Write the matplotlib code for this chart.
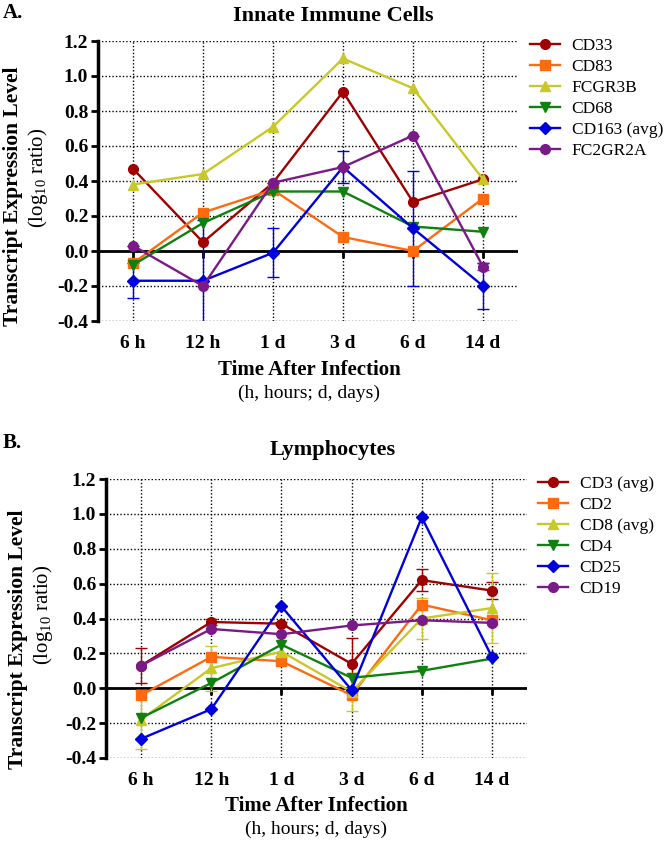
import numpy as np
import matplotlib
matplotlib.use("Agg")
import matplotlib.pyplot as plt

plt.rcParams['font.family'] = ['Liberation Serif', 'DejaVu Serif']
plt.rcParams['mathtext.fontset'] = 'custom'
plt.rcParams['mathtext.rm'] = 'Liberation Serif'
plt.rcParams['mathtext.it'] = 'Liberation Serif:italic'
plt.rcParams['mathtext.bf'] = 'Liberation Serif:bold'

# time points (categories)
times = ['6 h', '12 h', '1 d', '3 d', '6 d', '14 d']

# Panel A - innate immune cells
cd33 = [0.47, 0.05, 0.39, 0.91, 0.28, 0.41]
cd83 = [-0.07, 0.22, 0.35, 0.08, 0.00, 0.30]
fcgr3b = [0.38, 0.44, 0.71, 1.10, 0.93, 0.41]
cd68 = [-0.08, 0.16, 0.34, 0.34, 0.14, 0.11]
cd163 = [-0.17, -0.17, -0.01, 0.48, 0.13, -0.20]
cd163_err = [0.10, 0.35, 0.14, 0.09, 0.33, 0.13]
fc2gr2a = [0.03, -0.20, 0.39, 0.48, 0.66, -0.09]
fc2gr2a_err = [0, 0, 0, 0, 0, 0.02]

# Panel B - lymphocytes
cd3 = [0.13, 0.38, 0.37, 0.14, 0.62, 0.56]
cd3_err = [0.10, 0.02, 0.01, 0.15, 0.065, 0.05]
cd2 = [-0.04, 0.18, 0.155, -0.04, 0.48, 0.39]
cd8 = [-0.18, 0.115, 0.21, -0.02, 0.40, 0.46]
cd8_err = [0.17, 0.13, 0.03, 0.11, 0.12, 0.20]
cd4 = [-0.17, 0.03, 0.25, 0.06, 0.10, 0.17]
cd25 = [-0.29, -0.12, 0.47, -0.01, 0.98, 0.18]
cd19 = [0.13, 0.34, 0.31, 0.36, 0.39, 0.375]

red = '#A00000'
orange = '#FF6A10'
yellow = '#C8C828'
green = '#108010'
blue = '#0000DD'
purple = '#7A1A88'

series_a = [
    ('CD33', cd33, None, red, 'o'),
    ('CD83', cd83, None, orange, 's'),
    ('FCGR3B', fcgr3b, None, yellow, '^'),
    ('CD68', cd68, None, green, 'v'),
    ('CD163 (avg)', cd163, cd163_err, blue, 'D'),
    ('FC2GR2A', fc2gr2a, fc2gr2a_err, purple, 'o'),
]
series_b = [
    ('CD3 (avg)', cd3, cd3_err, red, 'o'),
    ('CD2', cd2, None, orange, 's'),
    ('CD8 (avg)', cd8, cd8_err, yellow, '^'),
    ('CD4', cd4, None, green, 'v'),
    ('CD25', cd25, None, blue, 'D'),
    ('CD19', cd19, None, purple, 'o'),
]

W, H = 666, 843


def px(x, y):
    # figure fraction from pixel position (top-left origin)
    return x / W, 1 - y / H


def draw_panel(ax, series, title, letter, pos):
    x = np.arange(len(times))
    for i in x:
        ax.axvline(i, color='black', ls=(0, (1, 1.5)), lw=1, zorder=0)
    for yv in np.arange(-0.4, 1.21, 0.2):
        ax.axhline(yv, color='black', ls=(0, (1, 1.5)), lw=1, zorder=0)
    ax.axhline(0, color='black', lw=2, zorder=1)
    ax.plot(x, np.zeros(len(x)), ls='none', marker=3, ms=5, mew=2,
            color='black', zorder=1)

    for name, vals, err, col, mk in series:
        ms = 6.5 if mk == 'D' else 7
        if err is not None:
            ax.errorbar(x, vals, yerr=err, color=col, lw=1, capsize=4,
                        capthick=1, ls='none', zorder=2)
        ax.plot(x, vals, color=col, marker=mk, ms=ms, lw=1.7, label=name,
                zorder=3)

    ax.set_xlim(-0.5, 5.5)
    ax.set_ylim(-0.4, 1.2)
    ax.set_yticks(np.arange(-0.4, 1.21, 0.2))
    ax.set_yticklabels(['%.1f' % v for v in np.arange(-0.4, 1.21, 0.2)],
                       fontsize=14, fontweight='bold')
    ax.set_xticks(x)
    ax.set_xticklabels(times, fontsize=14, fontweight='bold')
    ax.tick_params(axis='x', length=0, pad=10)
    ax.tick_params(axis='y', length=5, width=2, pad=2)
    for s in ['top', 'right', 'bottom']:
        ax.spines[s].set_visible(False)
    ax.spines['left'].set_linewidth(2.5)

    fig.text(*px(*pos['ylab']), 'Transcript Expression Level', rotation=90,
             ha='center', va='center', fontsize=15.5, fontweight='bold')
    fig.text(*px(*pos['ylab2']), '(log$_{10}$ ratio)', rotation=90,
             ha='center', va='center', fontsize=15)
    fig.text(*px(*pos['xlab']), 'Time After Infection', ha='center',
             va='center', fontsize=15, fontweight='bold')
    fig.text(*px(*pos['xlab2']), '(h, hours; d, days)', ha='center',
             va='center', fontsize=14)
    fig.text(*px(333, pos['title']), title, ha='center', va='center',
             fontsize=16, fontweight='bold')
    fig.text(*px(3, pos['letter']), letter, ha='left', va='center',
             fontsize=15, fontweight='bold')

    ax.legend(loc='upper left', bbox_to_anchor=pos['legend'],
              bbox_transform=fig.transFigure, frameon=False,
              fontsize=12.5, handlelength=1.7, handletextpad=0.7,
              labelspacing=0.28, borderaxespad=0, borderpad=0)


fig = plt.figure(figsize=(W / 100, H / 100), dpi=100)
ax_a = fig.add_axes([98 / W, 1 - 321 / H, 420 / W, 280 / H])
ax_b = fig.add_axes([106 / W, 1 - 758 / H, 421 / W, 279 / H])

pos_a = dict(ylab=(13, 196), ylab2=(38, 178), xlab=(309, 370),
             xlab2=(309, 393), title=16, letter=13, legend=px(530, 38))
pos_b = dict(ylab=(18, 639), ylab2=(43, 615), xlab=(316, 806),
             xlab2=(316, 829), title=450, letter=443, legend=px(538, 476))

draw_panel(ax_a, series_a, 'Innate Immune Cells', 'A.', pos_a)
draw_panel(ax_b, series_b, 'Lymphocytes', 'B.', pos_b)

fig.savefig('out.png', dpi=100)
